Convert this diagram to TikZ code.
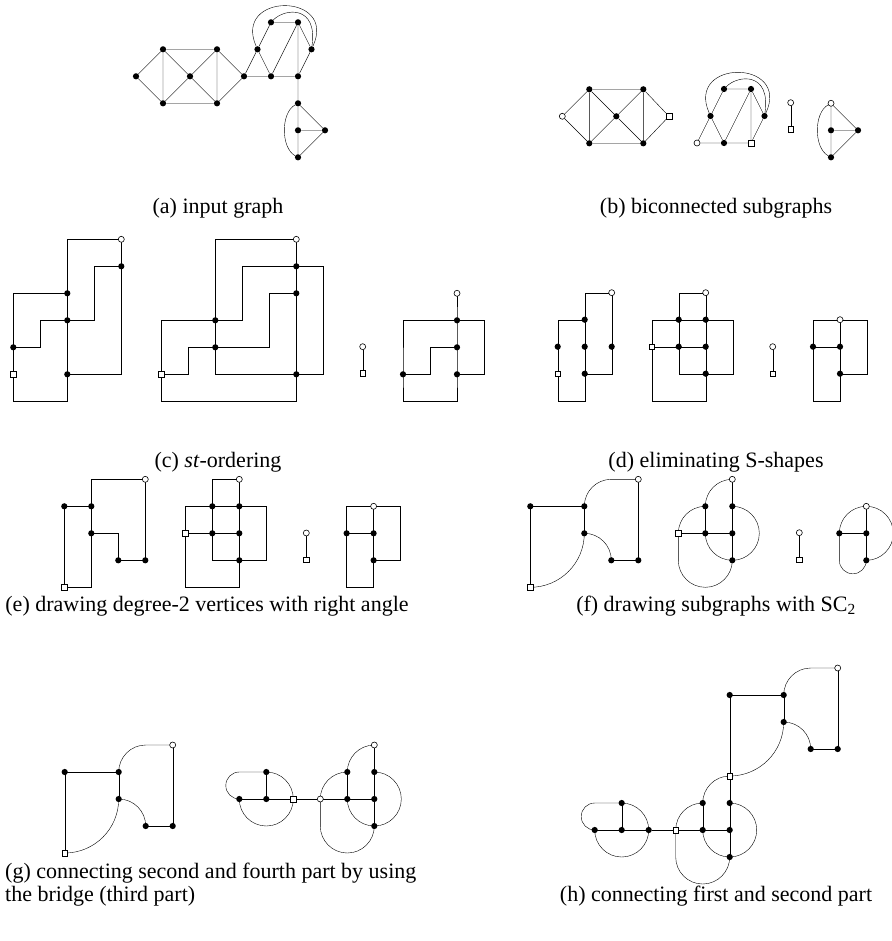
\documentclass[tikz,border=0pt]{standalone}
\usepackage{fontspec}
\setmainfont{Liberation Serif}
\usetikzlibrary{backgrounds}
\tikzset{
  v/.style={circle,fill=black,inner sep=0pt,minimum size=6.2pt},
  wv/.style={circle,draw=black,fill=white,inner sep=0pt,minimum size=6pt,line width=0.6pt},
  sv/.style={rectangle,draw=black,fill=white,inner sep=0pt,minimum size=5.8pt,line width=0.6pt},
  ed/.style={line width=1pt},
  captext/.style={font=\fontsize{22}{23}\selectfont,inner sep=0pt},
  gridu/.style={x=27pt,y=-27pt}
}
\newcommand{\MidOrth}[1]{%
  \node[wv] (#1w) at (2,0) {};
  \node[v] (#1a) at (1,1) {};
  \node[v] (#1b) at (2,1) {};
  \node[sv] (#1s) at (0,2) {};
  \node[v] (#1c) at (1,2) {};
  \node[v] (#1d) at (2,2) {};
  \node[v] (#1e) at (2,3) {};
  \begin{scope}[on background layer,ed]
    \draw (#1w.center) -| (#1a.center) -- (#1c.center) |- (#1e.center) -- ++(1,0) |- (#1b.center) -- (#1a.center) -| (#1s.center) -- ++(0,2) -| (#1e.center);
    \draw (#1w.center) -- (#1b.center) -- (#1d.center) -- (#1e.center);
    \draw (#1s.center) -- (#1c.center) -- (#1d.center);
  \end{scope}}
\newcommand{\RightOrth}[1]{%
  \node[wv] (#1w) at (1,0) {};
  \node[v] (#1l) at (0,1) {};
  \node[v] (#1c) at (1,1) {};
  \node[v] (#1b) at (1,2) {};
  \begin{scope}[on background layer,ed]
    \draw (#1w.center) -| (#1l.center) -- (#1c.center);
    \draw (#1w.center) -- (#1c.center) -- (#1b.center) -- ++(0,1) -| (#1l.center);
    \draw (#1w.center) -- ++(1,0) |- (#1b.center);
  \end{scope}}
\newcommand{\LeftArc}[3]{%
  \node[#2] (#1w) at (4,0) {};
  \node[v] (#1a) at (0,1) {};
  \node[v] (#1b) at (2,1) {};
  \node[v] (#1c) at (2,2) {};
  \node[v] (#1d) at (3,3) {};
  \node[v] (#1e) at (4,3) {};
  \node[#3] (#1s) at (0,4) {};
  \begin{scope}[on background layer,ed]
    \draw (#1s.center) -- (#1a.center) -- (#1b.center) -- (#1c.center);
    \draw (#1w.center) -- (#1e.center) -- (#1d.center);
    \draw (#1w.center) -- ++(-1,0) arc[start angle=270,end angle=180,radius=1];
    \draw (#1c.center) arc[start angle=270,end angle=360,radius=1];
    \draw (#1c.center) arc[start angle=0,end angle=90,radius=2];
  \end{scope}}
\newcommand{\MidArc}[3]{%
  \node[#2] (#1w) at (2,0) {};
  \node[v] (#1a) at (1,1) {};
  \node[v] (#1b) at (2,1) {};
  \node[#3] (#1s) at (0,2) {};
  \node[v] (#1c) at (1,2) {};
  \node[v] (#1d) at (2,2) {};
  \node[v] (#1e) at (2,3) {};
  \begin{scope}[on background layer,ed]
    \draw (#1w.center) -- (#1b.center) -- (#1d.center) -- (#1e.center);
    \draw (#1a.center) -- (#1c.center);
    \draw (#1s.center) -- (#1c.center) -- (#1d.center);
    \draw (#1w.center) arc[start angle=270,end angle=180,radius=1];
    \draw (#1a.center) arc[start angle=270,end angle=180,radius=1];
    \draw (#1s.center) -- ++(0,1) arc[start angle=180,end angle=0,radius=1];
    \draw (#1b.center) arc[start angle=-90,end angle=180,radius=1];
  \end{scope}}
\newcommand{\RightArc}[2]{%
  \node[#2] (#1w) at (1,0) {};
  \node[v] (#1l) at (0,1) {};
  \node[v] (#1c) at (1,1) {};
  \node[v] (#1b) at (1,2) {};
  \begin{scope}[on background layer,ed]
    \draw (#1w.center) -- (#1c.center) -- (#1b.center);
    \draw (#1l.center) -- (#1c.center);
    \draw (#1w.center) arc[start angle=270,end angle=180,radius=1];
    \draw (#1l.center) -- ++(0,1) arc[start angle=180,end angle=0,radius=0.5];
    \draw (#1w.center) arc[start angle=-90,end angle=90,radius=1];
  \end{scope}}
\newcommand{\PartFour}[2]{%
  \node[v] (#1t) at (-2,1) {};
  \node[v] (#1l) at (-3,2) {};
  \node[v] (#1c) at (-2,2) {};
  \node[#2] (#1r) at (-1,2) {};
  \begin{scope}[on background layer,ed]
    \draw (#1l.center) -- (#1c.center) -- (#1r.center);
    \draw (#1t.center) -- (#1c.center);
    \draw (#1t.center) arc[start angle=270,end angle=360,radius=1];
    \draw (#1t.center) -- ++(-1,0) arc[start angle=270,end angle=90,radius=0.5];
    \draw (#1r.center) arc[start angle=0,end angle=180,radius=1];
  \end{scope}}
\begin{document}
\begin{tikzpicture}[x=1pt,y=-1pt]
\begin{scope}[on background layer]
  \fill[white] (0,0) rectangle (891,941);
\end{scope}
\useasboundingbox (0,0) rectangle (891,941);

% ---------- (a) input graph ----------
\begin{scope}[shift={(136,22.3)},gridu]
  \node[v] (aL) at (0,2) {};
  \node[v] (aTL) at (1,1) {};
  \node[v] (aBL) at (1,3) {};
  \node[v] (aC) at (2,2) {};
  \node[v] (aTR) at (3,1) {};
  \node[v] (aBR) at (3,3) {};
  \node[v] (aR) at (4,2) {};
  \node[v] (aa) at (4.5,1) {};
  \node[v] (ab) at (5,0) {};
  \node[v] (ac) at (6,0) {};
  \node[v] (ad) at (6.5,1) {};
  \node[v] (ae) at (5,2) {};
  \node[v] (af) at (6,2) {};
  \node[v] (ag) at (6,3) {};
  \node[v] (ah) at (6,4) {};
  \node[v] (ai) at (7,4) {};
  \node[v] (aj) at (6,5) {};
  \begin{scope}[on background layer,ed]
    \draw (aL)--(aTL) (aL)--(aBL) (aTL)--(aBL) (aTL)--(aTR) (aBL)--(aBR)
          (aTL)--(aC) (aBL)--(aC) (aTR)--(aC) (aBR)--(aC) (aTR)--(aBR)
          (aTR)--(aR) (aBR)--(aR);
    \draw (aR)--(aa) (aR)--(ae) (aa)--(ae) (aa)--(ab) (ab)--(ac) (ae)--(af)
          (ae)--(ac) (ac)--(af) (ac)--(ad) (ad)--(af);
    \draw (af)--(ag) (ag)--(ah) (ah)--(aj) (ag)--(ai) (ah)--(ai) (ai)--(aj);
    \draw (aa) .. controls (3.56,-1.12) and (7.48,-1.12) .. (ad);
    \draw (ab) .. controls (5.52,-0.53) and (6.74,-0.64) .. (ad);
    \draw (ag) .. controls (5.36,3.35) and (5.36,4.65) .. (aj);
  \end{scope}
\end{scope}

% ---------- (b) biconnected subgraphs ----------
\begin{scope}[shift={(562.3,89.3)},gridu]
  \node[wv] (bL) at (0,1) {};
  \node[v] (bTL) at (1,0) {};
  \node[v] (bBL) at (1,2) {};
  \node[v] (bC) at (2,1) {};
  \node[v] (bTR) at (3,0) {};
  \node[v] (bBR) at (3,2) {};
  \node[sv] (bR) at (3.95,1) {};
  \begin{scope}[on background layer,ed]
    \draw (bL)--(bTL) (bL)--(bBL) (bTL)--(bBL) (bTL)--(bTR) (bBL)--(bBR)
          (bTL)--(bC) (bBL)--(bC) (bTR)--(bC) (bBR)--(bC) (bTR)--(bBR)
          (bTR)--(bR) (bBR)--(bR);
  \end{scope}
\end{scope}
\begin{scope}[shift={(589,89)},gridu]
  \node[wv] (bR2) at (4,2) {};
  \node[v] (ba2) at (4.5,1) {};
  \node[v] (bb2) at (5,0) {};
  \node[v] (bc2) at (6,0) {};
  \node[v] (bd2) at (6.5,1) {};
  \node[v] (be2) at (5,2) {};
  \node[sv] (bf2) at (6,2) {};
  \begin{scope}[on background layer,ed]
    \draw (bR2)--(ba2) (bR2)--(be2) (ba2)--(be2) (ba2)--(bb2) (bb2)--(bc2) (be2)--(bf2)
          (be2)--(bc2) (bc2)--(bf2) (bc2)--(bd2) (bd2)--(bf2);
    \draw (ba2) .. controls (3.56,-1.12) and (7.48,-1.12) .. (bd2);
    \draw (bb2) .. controls (5.52,-0.53) and (6.74,-0.64) .. (bd2);
  \end{scope}
\end{scope}
\node[wv] (bt3) at (790.7,102.7) {};
\node[sv] (bs3) at (790.7,129.3) {};
\begin{scope}[on background layer,ed]
  \draw (bt3) -- (bs3);
\end{scope}
\begin{scope}[shift={(669,22.3)},gridu]
  \node[wv] (bg4) at (6,3) {};
  \node[v] (bh4) at (6,4) {};
  \node[v] (bi4) at (7,4) {};
  \node[v] (bj4) at (6,5) {};
  \begin{scope}[on background layer,ed]
    \draw (bg4)--(bh4) (bh4)--(bj4) (bg4)--(bi4) (bh4)--(bi4) (bi4)--(bj4);
    \draw (bg4) .. controls (5.36,3.35) and (5.36,4.65) .. (bj4);
  \end{scope}
\end{scope}

% ---------- (c) st-ordering ----------
\begin{scope}[shift={(13.3,239.3)},gridu]
  \node[wv] (clw) at (4,0) {};
  \node[v] (cla) at (4,1) {};
  \node[v] (clb) at (2,2) {};
  \node[v] (clc) at (2,3) {};
  \node[v] (cld) at (0,4) {};
  \node[sv] (cls) at (0,5) {};
  \node[v] (cle) at (2,5) {};
  \begin{scope}[on background layer,ed]
    \draw (clw.center) -| (clb.center) -- (clc.center) -- (cle.center) -- ++(0,1) -| (cls.center) -- (cld.center) |- (clb.center);
    \draw (cld.center) -- ++(1,0) |- (clc.center) -- ++(1,0) |- (cla.center);
    \draw (clw.center) -- (cla.center) |- (cle.center);
  \end{scope}
\end{scope}
\begin{scope}[shift={(161.3,239.3)},gridu]
  \node[wv] (cmw) at (5,0) {};
  \node[v] (cma) at (5,1) {};
  \node[v] (cmb) at (5,2) {};
  \node[v] (cmc) at (2,3) {};
  \node[v] (cmd) at (2,4) {};
  \node[v] (cme) at (5,5) {};
  \node[sv] (cms) at (0,5) {};
  \begin{scope}[on background layer,ed]
    \draw (cmw.center) -| (cmc.center) -- (cmd.center) |- (cme.center) -- ++(1,0) |- (cma.center) -- ++(-2,0) |- (cmc.center) -| (cms.center) -- ++(0,1) -| (cme.center);
    \draw (cmw.center) -- (cma.center) -- (cmb.center) -- (cme.center);
    \draw (cms.center) -- ++(1,0) |- (cmd.center) -- ++(2,0) |- (cmb.center);
  \end{scope}
\end{scope}
\node[wv] (cbt) at (362.7,346.7) {};
\node[sv] (cbs) at (362.7,373.3) {};
\begin{scope}[on background layer,ed]
  \draw (cbt) -- (cbs);
\end{scope}
\begin{scope}[shift={(403,293.3)},gridu]
  \node[wv] (crw) at (2,0) {};
  \node[v] (cra) at (2,1) {};
  \node[v] (crb) at (2,2) {};
  \node[v] (crd) at (0,3) {};
  \node[v] (crc) at (2,3) {};
  \begin{scope}[on background layer,ed]
    \draw (crw.center) -- (cra.center) -- (crb.center) -- (crc.center) -- ++(0,1) -| (crd.center) |- (cra.center);
    \draw (cra.center) -- ++(1,0) |- (crc.center);
    \draw (crd.center) -- ++(1,0) |- (crb.center);
  \end{scope}
\end{scope}

% ---------- (d) eliminating S-shapes ----------
\begin{scope}[shift={(557.7,292.7)},gridu]
  \node[wv] (dlw) at (2,0) {};
  \node[v] (dla) at (1,1) {};
  \node[v] (dlp) at (0,2) {};
  \node[v] (dlb) at (1,2) {};
  \node[v] (dlq) at (2,2) {};
  \node[sv] (dls) at (0,3) {};
  \node[v] (dlc) at (1,3) {};
  \begin{scope}[on background layer,ed]
    \draw (dlw.center) -| (dla.center) -- (dlb.center) -- (dlc.center) -- ++(0,1) -| (dls.center) -- (dlp.center) |- (dla.center);
    \draw (dlw.center) -- (dlq.center) |- (dlc.center);
  \end{scope}
\end{scope}
\begin{scope}[shift={(651.7,292.7)},gridu]
  \MidOrth{dm}
\end{scope}
\node[wv] (dbt) at (772.7,346.7) {};
\node[sv] (dbs) at (772.7,373.7) {};
\begin{scope}[on background layer,ed]
  \draw (dbt) -- (dbs);
\end{scope}
\begin{scope}[shift={(813,319.7)},gridu]
  \RightOrth{dr}
\end{scope}

% ---------- (e) right angles ----------
\begin{scope}[shift={(64.3,479.3)},gridu]
  \node[wv] (elw) at (3,0) {};
  \node[v] (ela) at (0,1) {};
  \node[v] (elb) at (1,1) {};
  \node[v] (elc) at (1,2) {};
  \node[v] (eld) at (2,3) {};
  \node[v] (ele) at (3,3) {};
  \node[sv] (els) at (0,4) {};
  \begin{scope}[on background layer,ed]
    \draw (elw.center) -| (elb.center) -- (elc.center) |- (els.center) -- (ela.center) -- (elb.center);
    \draw (elc.center) -| (eld.center) -- (ele.center) -- (elw.center);
  \end{scope}
\end{scope}
\begin{scope}[shift={(185.3,479.3)},gridu]
  \MidOrth{em}
\end{scope}
\node[wv] (ebt) at (306.3,533) {};
\node[sv] (ebs) at (306.3,559.7) {};
\begin{scope}[on background layer,ed]
  \draw (ebt) -- (ebs);
\end{scope}
\begin{scope}[shift={(346.6,506.3)},gridu]
  \RightOrth{er}
\end{scope}

% ---------- (f) SC2 ----------
\begin{scope}[shift={(530.3,479.3)},gridu]
  \LeftArc{fl}{wv}{sv}
\end{scope}
\begin{scope}[shift={(678.3,479.3)},gridu]
  \MidArc{fm}{wv}{sv}
\end{scope}
\node[wv] (fbt) at (799.3,532.7) {};
\node[sv] (fbs) at (799.3,559.7) {};
\begin{scope}[on background layer,ed]
  \draw (fbt) -- (fbs);
\end{scope}
\begin{scope}[shift={(839.3,506.3)},gridu]
  \RightArc{fr}{wv}
\end{scope}

% ---------- (g) ----------
\begin{scope}[shift={(64.7,745)},gridu]
  \LeftArc{gl}{wv}{sv}
\end{scope}
\begin{scope}[shift={(320.3,745)},gridu]
  \MidArc{gm}{wv}{wv}
  \PartFour{gq}{sv}
  \begin{scope}[on background layer,ed]
    \draw (gqr) -- (gms);
  \end{scope}
\end{scope}

% ---------- (h) ----------
\begin{scope}[shift={(729.7,668)},gridu]
  \LeftArc{hl}{wv}{coordinate}
\end{scope}
\begin{scope}[shift={(675.7,776)},gridu]
  \MidArc{hm}{sv}{sv}
  \PartFour{hq}{v}
  \begin{scope}[on background layer,ed]
    \draw (hqr) -- (hms);
  \end{scope}
\end{scope}

% ---------- captions ----------
\node[captext] (capa) at (218,208) {(a) input graph};
\node[captext] (capb) at (716,208) {(b) biconnected subgraphs};
\node[captext] (capc) at (218,462) {(c) \textit{st}-ordering};
\node[captext] (capd) at (716,462) {(d) eliminating S-shapes};
\node[captext] (cape) at (207,606) {(e) drawing degree-2 vertices with right angle};
\node[captext] (capf) at (716,606) {(f) drawing subgraphs with SC\textsubscript{2}};
\node[captext,align=left,anchor=north west] (capg) at (5,863) {(g) connecting second and fourth part by using\\the bridge (third part)};
\node[captext,anchor=base] (caph) at (716,901) {(h) connecting first and second part};
\end{tikzpicture}
\end{document}
